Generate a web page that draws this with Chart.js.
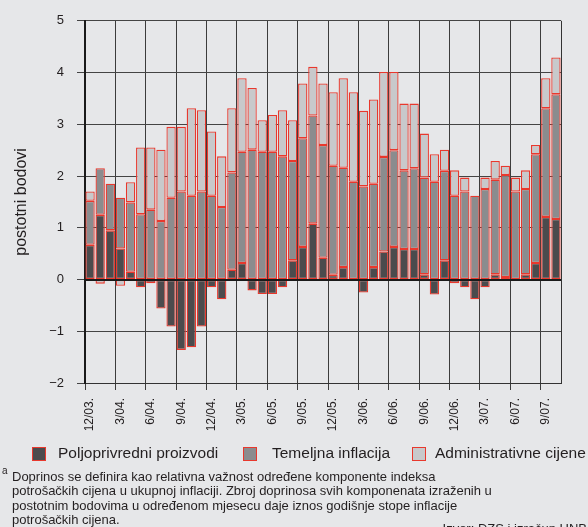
<!DOCTYPE html>
<html>
<head>
<meta charset="utf-8">
<script src="https://cdn.jsdelivr.net/npm/chart.js@4.4.0/dist/chart.umd.min.js"></script>
<style>
html, body { margin: 0; padding: 0; background: #e6e7e9; }
body { width: 588px; height: 527px; position: relative; overflow: hidden;
  font-family: "Liberation Sans", Arial, sans-serif; color: #231f20; }
#chart { position: absolute; left: 0; top: 0; }
.box { position: absolute; top: 447px; width: 12px; height: 12px; border: 1px solid #e8382d; }
.leg { position: absolute; top: 445px; font-size: 15.5px; line-height: 1; white-space: nowrap; }
#note { position: absolute; left: 12px; top: 470px; font-size: 13px; line-height: 14.4px; white-space: nowrap; }
#sup { position: absolute; left: 2px; top: 466px; font-size: 10px; line-height: 1; }
#izvor { position: absolute; right: 1px; top: 522px; font-size: 13px; line-height: 14.4px; white-space: nowrap; }
</style>
</head>
<body>
<canvas id="chart" width="588" height="445"></canvas>

<div class="box" style="left:32px;background:#4b4b4d"></div>
<div class="leg" style="left:58px">Poljoprivredni proizvodi</div>
<div class="box" style="left:243px;background:#8b8c8e"></div>
<div class="leg" style="left:272px">Temeljna inflacija</div>
<div class="box" style="left:412px;background:#c8c9cb"></div>
<div class="leg" style="left:435px">Administrativne cijene</div>

<div id="sup">a</div>
<div id="note">Doprinos se definira kao relativna važnost određene komponente indeksa<br>potrošačkih cijena u ukupnoj inflaciji. Zbroj doprinosa svih komponenata izraženih u<br>postotnim bodovima u određenom mjesecu daje iznos godišnje stope inflacije<br>potrošačkih cijena.</div>
<div id="izvor">Izvor: DZS i izračun HNB</div>

<script>
// mjeseci 12/2003 - 10/2007
const mjeseci = [
  '12/03.', '1/04.', '2/04.', '3/04.', '4/04.', '5/04.', '6/04.', '7/04.', '8/04.', '9/04.', '10/04.', '11/04.',
  '12/04.', '1/05.', '2/05.', '3/05.', '4/05.', '5/05.', '6/05.', '7/05.', '8/05.', '9/05.', '10/05.', '11/05.',
  '12/05.', '1/06.', '2/06.', '3/06.', '4/06.', '5/06.', '6/06.', '7/06.', '8/06.', '9/06.', '10/06.', '11/06.',
  '12/06.', '1/07.', '2/07.', '3/07.', '4/07.', '5/07.', '6/07.', '7/07.', '8/07.', '9/07.', '10/07.'
];

const poljoprivredni = [
  0.67, 1.25, 0.95, 0.60, 0.15, -0.15, -0.07, -0.56, -0.91, -1.36, -1.31, -0.91,
  -0.15, -0.38, 0.19, 0.32, -0.21, -0.28, -0.28, -0.15, 0.37, 0.63, 1.08, 0.42,
  0.09, 0.24, 0, -0.25, 0.24, 0.54, 0.63, 0.59, 0.59, 0.10, -0.29, 0.37,
  -0.07, -0.15, -0.38, -0.15, 0.10, 0.05, -0.03, 0.10, 0.32, 1.21, 1.17
];

const temeljna = [
  0.85, 0.90, 0.90, 0.98, 1.34, 1.26, 1.35, 1.13, 1.58, 1.70, 1.62, 1.70,
  1.62, 1.40, 1.88, 2.15, 2.51, 2.47, 2.47, 2.38, 1.92, 2.10, 2.09, 2.18,
  2.11, 1.92, 1.89, 1.80, 1.61, 1.83, 1.87, 1.52, 1.56, 1.87, 1.89, 1.73,
  1.62, 1.70, 1.62, 1.75, 1.83, 1.97, 1.70, 1.65, 2.10, 2.10, 2.41
];

const administrativne = [
  0.18, -0.08, -0.03, -0.12, 0.39, 1.29, 1.20, 1.38, 1.37, 1.25, 1.69, 1.57,
  1.24, 0.98, 1.24, 1.42, 1.19, 0.61, 0.71, 0.89, 0.79, 1.06, 0.94, 1.19,
  1.42, 1.73, 1.73, 1.46, 1.63, 1.64, 1.51, 1.29, 1.25, 0.85, 0.53, 0.41,
  0.49, 0.27, 0, 0.22, 0.36, 0.18, 0.27, 0.36, 0.18, 0.58, 0.71
];

Chart.defaults.font.family = '"Liberation Sans", Arial, sans-serif';
Chart.defaults.color = '#231f20';

const crvena = '#e8382d';
const barOpts = { borderColor: crvena, borderWidth: 1.3, borderSkipped: false,
  barPercentage: 0.92, categoryPercentage: 1 };

// nulta linija i desni rub preko stupaca
const okvir = {
  id: 'okvir',
  afterDatasetsDraw(chart) {
    const { ctx, chartArea: a, scales: { y } } = chart;
    ctx.save();
    ctx.strokeStyle = '#1a1a1a';
    ctx.lineWidth = 2;
    const y0 = Math.round(y.getPixelForValue(0));
    ctx.beginPath(); ctx.moveTo(a.left, y0); ctx.lineTo(a.right, y0); ctx.stroke();
    ctx.lineWidth = 1;
    ctx.strokeStyle = '#333';
    ctx.beginPath(); ctx.moveTo(Math.round(a.right) + 0.5, a.top); ctx.lineTo(Math.round(a.right) + 0.5, a.bottom); ctx.stroke();
    ctx.restore();
  }
};

new Chart(document.getElementById('chart'), {
  type: 'bar',
  data: {
    labels: mjeseci,
    datasets: [
      { label: 'Poljoprivredni proizvodi', data: poljoprivredni, backgroundColor: '#4b4b4d', ...barOpts },
      { label: 'Temeljna inflacija', data: temeljna, backgroundColor: '#8b8c8e', ...barOpts },
      { label: 'Administrativne cijene', data: administrativne, backgroundColor: '#c8c9cb', ...barOpts }
    ]
  },
  options: {
    responsive: false,
    animation: false,
    devicePixelRatio: 1,
    layout: { padding: { top: 19, right: 27, left: 0, bottom: 0 } },
    plugins: { legend: { display: false }, tooltip: { enabled: false } },
    scales: {
      x: {
        stacked: true,
        offset: true,
        grid: {
          offset: true,
          color: c => c.index % 3 === 0 ? '#3c3c3c' : 'rgba(0,0,0,0)',
          tickColor: c => c.index % 3 === 0 ? '#3c3c3c' : 'rgba(0,0,0,0)',
          tickLength: 7,
          lineWidth: 1
        },
        border: { display: true, color: '#333', width: 1 },
        ticks: {
          autoSkip: false,
          minRotation: 90,
          maxRotation: 90,
          padding: 8,
          font: { size: 12 },
          callback: (v, i) => i % 3 === 0 ? mjeseci[i] : ''
        },
        afterFit: s => { s.height = 62; }
      },
      y: {
        stacked: true,
        min: -2,
        max: 5,
        grid: {
          color: '#444',
          tickColor: '#444',
          tickLength: 8,
          lineWidth: 1
        },
        border: { display: true, color: '#1a1a1a', width: 2 },
        ticks: {
          stepSize: 1,
          padding: 13,
          font: { size: 13 },
          callback: v => v < 0 ? '\u2212' + Math.abs(v) : String(v)
        },
        title: {
          display: true,
          text: 'postotni bodovi',
          font: { size: 16 },
          padding: { top: 12, bottom: 0 }
        },
        afterFit: s => { s.width = 85; }
      }
    }
  },
  plugins: [okvir]
});
</script>
</body>
</html>
